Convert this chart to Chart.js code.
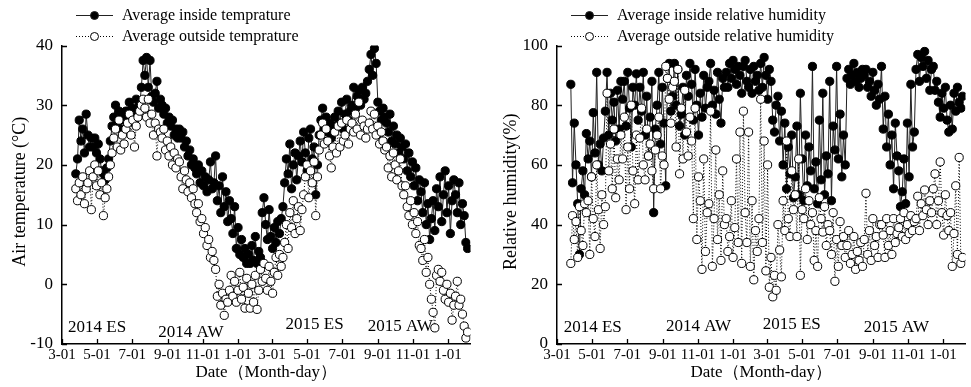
<!DOCTYPE html>
<html>
<head>
<meta charset="utf-8">
<script src="https://cdn.jsdelivr.net/npm/chart.js@4.4.1/dist/chart.umd.min.js"></script>
<style>
  html, body { margin: 0; padding: 0; background: #fff; }
  .wrap { display: flex; width: 971px; height: 387px; }
  .panel { position: relative; height: 387px; }
</style>
</head>
<body>
<div class="wrap">
  <div class="panel" style="width:485px"><canvas id="tempChart"></canvas></div>
  <div class="panel" style="width:486px"><canvas id="humChart"></canvas></div>
</div>
<script>
// days are counted from 2014-03-01, one reading every 3 days from 2014-03-25
const startDay = 24;
const stepDays = 3;

const tickDays = [0, 61, 122, 184, 245, 306, 365, 426, 487, 549, 610, 671];
const tickLabels = ["3-01", "5-01", "7-01", "9-01", "11-01", "1-01", "3-01", "5-01", "7-01", "9-01", "11-01", "1-01"];

const periodLabels = ["2014 ES", "2014 AW", "2015 ES", "2015 AW"];
const periodDaysTemp = [61, 224, 439, 588];
const periodValsTemp = [-7.3, -8.0, -6.8, -7.15];
const periodDaysHum = [62, 246, 408, 590];
const periodValsHum = [5.4, 5.7, 6.4, 5.4];

const insideTemp = [
  18.5, 21, 27.5, 24, 26, 22, 28.5, 25, 23, 24.5,
  23, 24.5, 22, 23.5, 21, 19, 18.5, 17.5, 19.5, 21,
  24, 26.5, 28, 30, 27, 29, 26, 28.5, 27.5, 29,
  29, 30.5, 28, 29.5, 27, 31, 28.5, 30, 33, 37.5,
  35, 38, 33, 37.5, 31.5, 30.5, 32, 34, 29.5, 31,
  30, 28.5, 29.5, 27, 28, 26.5, 27.5, 25, 26, 24.5,
  26, 24.5, 25.5, 23, 24, 21.5, 22.5, 20, 21, 19.5,
  18.5, 20, 17, 19, 16.5, 18, 15.5, 17.5, 20.5, 16,
  17, 21.5, 14, 16.5, 12, 18, 13, 15.5, 10.5, 14,
  11, 8.5, 13, 6, 9.5, 5, 7.5, 4.5, 6, 3.5,
  5, 3.5, 6.5, 4, 8, 3.5, 5.5, 4.5, 12, 14.5,
  10, 7.5, 12.5, 8, 6, 9.5, 7, 10.5, 8.5, 11,
  13, 17, 21, 18.5, 23.5, 16, 20, 22, 17.5, 21.5,
  24, 20.5, 25.5, 22, 19, 24.5, 26, 21, 23, 15,
  20, 25, 27.5, 29.5, 26, 28, 25.5, 27, 24.5, 26.5,
  28, 26.5, 29, 27, 30.5, 26, 28.5, 31, 27.5, 29,
  30, 33, 29.5, 31.5, 32.5, 30, 33, 31, 32, 34,
  36, 38.5, 35, 39.5, 37, 30.5, 29, 27.5, 29.5, 28,
  27, 25.5, 28.5, 24, 26.5, 23.5, 25, 22, 24.5, 23,
  21, 23.5, 19, 22, 18, 20.5, 16.5, 19.5, 14, 17.5,
  15.5, 12, 17, 10, 13.5, 7.5, 11, 14, 9, 16,
  13, 18, 10.5, 15, 19, 12, 16.5, 8.5, 14, 17.5,
  15, 12, 17, 10, 13.5, 11.5, 7, 6
];

const outsideTemp = [
  16, 14, 17, 15, 18, 13.5, 16, 17, 19, 12.5,
  18, 20, 16.5, 19, 15, 17, 11.5, 14.5, 16, 18,
  20, 22, 24.5, 26, 23, 27.5, 22.5, 25, 23.5, 26,
  27, 28.5, 25, 27.5, 23, 26.5, 28, 29, 30, 31,
  29.5, 28, 31, 27, 28.5, 25, 27, 21.5, 26, 25.5,
  24.5, 26, 22.5, 24, 21.5, 23, 20, 22, 19.5, 21,
  20.5, 18, 16, 19, 17.5, 15.5, 17, 14.5, 16, 13.5,
  12, 13.5, 10.5, 11, 8.5, 9.5, 6.5, 7.5, 4.5, 5.5,
  4, 2.5, -2, 0, -3.5, -1.5, -5.2, -2.5, -3, -1,
  1.5, -2, 0.5, -3, -1, 2, -2.5, -0.5, -4, 1,
  -1.5, -4, 0, -3, 1.5, -4.2, -1, 2.5, 0.5, 3.5,
  1, -1, 3, 0.5, -1.5, 2, 4.5, 1.5, 5, 3,
  4.5, 7, 10, 6, 12, 9.5, 14, 8.5, 11, 13,
  9, 12.5, 15, 18, 20, 14.5, 19, 17, 20.5, 11.5,
  18, 22.5, 25, 27, 23.5, 26, 24, 21.5, 19.5, 23,
  25.5, 22, 26.5, 23, 27, 24, 25, 27.5, 23.5, 26,
  27, 25.5, 28.5, 26, 30.5, 25, 27.5, 26.5, 24.5, 26,
  27, 29, 26, 28.5, 25, 26.5, 23.5, 25.5, 24, 22.5,
  23, 19.5, 21.5, 18, 22, 20, 17.5, 19, 21, 16.5,
  15, 16.5, 13, 11.5, 14, 10, 12, 8.5, 10.5, 6.5,
  6, 4, 7.5, 2, 4.5, 0, -2.5, -4.7, -7.3, 1.5,
  2.5, 0.5, 2, -1, -2.5, 0, -3, -1.5, -6, -3.5,
  -2, 0.5, -3.5, -2.5, -5, -7, -9, -8
];

const insideHum = [
  87, 54, 74, 60, 47, 30, 52, 58, 50, 70.5,
  62, 68, 56, 77.5, 64, 91, 60, 67, 58, 69,
  78, 91, 70, 84, 75, 81, 68, 85, 72, 88,
  82, 88, 73, 91, 79, 66, 86, 80, 90.5, 75,
  86, 78, 91, 70, 83, 63, 76, 88, 44, 72,
  80, 91, 67, 86, 74, 53, 89, 94, 78, 83,
  94, 80, 92, 73, 77, 86, 70, 90, 83, 94,
  87, 75, 92, 80, 70, 84, 76, 90, 79, 86,
  88, 94, 80, 85, 77, 91, 82, 74, 89, 86,
  91, 86, 94, 89, 95, 92, 87, 93, 90, 84,
  93, 95, 88, 86, 92, 84, 93, 88, 90, 85,
  94, 86, 96, 90, 82, 92, 88, 75, 71, 80,
  83, 68, 78, 60, 74, 52, 66, 57, 70, 49,
  56, 73, 50, 84, 62, 48, 70, 53, 66, 58,
  93, 52, 61, 47, 75, 55, 84, 50, 63, 57,
  88, 48, 73, 65, 93, 62, 77, 56, 70, 60,
  89, 92, 87, 90, 94, 88, 91, 86, 89, 92,
  90, 92, 86, 88, 83, 91, 85, 80, 87, 82,
  93, 72, 83, 66, 77, 60, 70, 52, 74, 63,
  58, 46, 51, 62, 47, 74, 56, 87, 66, 71,
  92, 97, 88, 96, 93, 98, 89, 95, 85, 92,
  93, 85, 88, 81, 76, 84, 79, 86, 75, 71,
  80, 72, 84, 78, 86, 81, 79, 83
];

const outsideHum = [
  27, 43, 35, 41, 29, 46, 38, 33, 47, 44,
  48, 30, 56, 42, 36, 60, 45, 32, 50, 40,
  46, 84, 58, 67, 52, 72, 49, 62, 55, 70,
  62, 76, 45, 66, 52, 80, 58, 47, 70, 55,
  69, 79, 60, 55, 72, 63, 67, 58, 52, 65,
  70, 76, 52, 63, 60, 93, 89, 82, 74, 86,
  88, 66, 92, 57, 79, 62, 85, 71, 63, 76,
  68, 42, 79, 35, 56, 48, 25, 62, 31, 44,
  47, 78, 26, 42, 65, 35, 50, 28, 58, 40,
  42, 31, 36, 48, 29, 39, 62, 34, 71, 27,
  78, 44, 34, 71, 26, 48, 21.5, 38, 31, 42,
  82, 34, 68, 24.5, 60, 19, 29, 15.8, 23, 18,
  40, 31.5, 22.5, 48, 38, 68, 42, 36, 58, 45,
  50, 36, 62, 23, 45, 42, 52, 35, 48, 40,
  44, 28, 38, 26, 49, 42, 37.5, 46, 33, 40,
  38, 30, 44, 21, 35, 26, 41, 33, 36, 29,
  33, 38, 27, 30, 36, 25, 31, 28, 34, 26,
  35, 50.5, 30, 38, 28, 42, 33, 36, 29, 40,
  40, 36.5, 29, 42, 33, 38, 30, 42, 34, 37,
  39, 42, 36, 44, 35, 40, 37, 43, 38, 41,
  42, 49.5, 38, 47, 43, 51.6, 45, 40, 48, 44,
  52, 57, 40, 48, 61, 44, 36.5, 50, 43, 38,
  44, 26, 37, 53, 30, 62.5, 27, 29
];

const serif = '"Liberation Serif", "Times New Roman", serif';

function toPoints(values) {
  return values.map((v, i) => ({ x: startDay + i * stepDays, y: v }));
}

function insideSet(label, values) {
  return {
    label: label,
    data: toPoints(values),
    borderColor: "#222",
    borderWidth: 1,
    pointRadius: 4.1,
    pointBackgroundColor: "#000",
    pointBorderColor: "#000",
    pointBorderWidth: 1,
    tension: 0,
    order: 1
  };
}

function outsideSet(label, values) {
  return {
    label: label,
    data: toPoints(values),
    borderColor: "#000",
    borderWidth: 1,
    borderDash: [1, 2],
    pointRadius: 4.1,
    pointBackgroundColor: "#fff",
    pointBorderColor: "#000",
    pointBorderWidth: 1,
    tension: 0,
    order: 0
  };
}

// inward ticks, legend, axis titles and period labels
const decorPlugin = {
  id: "decor",
  afterDraw(chart, args, opts) {
    const ctx = chart.ctx;
    const xs = chart.scales.x;
    const ys = chart.scales.y;
    const area = chart.chartArea;
    ctx.save();
    ctx.strokeStyle = "#000";
    ctx.lineWidth = 1.3;
    ctx.beginPath();
    xs.ticks.forEach(t => {
      const px = Math.round(xs.getPixelForValue(t.value)) + 0.5;
      ctx.moveTo(px, area.bottom);
      ctx.lineTo(px, area.bottom - 5);
    });
    ys.ticks.forEach(t => {
      const py = Math.round(ys.getPixelForValue(t.value)) + 0.5;
      ctx.moveTo(area.left, py);
      ctx.lineTo(area.left + 5, py);
    });
    ctx.stroke();

    ctx.fillStyle = "#000";
    ctx.textAlign = "center";
    ctx.textBaseline = "middle";
    ctx.font = "17px " + serif;
    opts.periods.labels.forEach((txt, i) => {
      ctx.fillText(txt, xs.getPixelForValue(opts.periods.days[i]), ys.getPixelForValue(opts.periods.vals[i]));
    });

    ctx.fillText(opts.xTitle, (area.left + area.right) / 2, 373);

    ctx.save();
    ctx.font = "18px " + serif;
    ctx.translate(opts.yTitleX, (area.top + area.bottom) / 2 - 3);
    ctx.rotate(-Math.PI / 2);
    ctx.fillText(opts.yTitle, 0, 0);
    ctx.restore();

    // legend: line sample with marker, then text
    ctx.textAlign = "left";
    ctx.font = "16px " + serif;
    const lx0 = area.left + 14, lx1 = area.left + 51;
    chart.data.datasets.forEach((ds, i) => {
      const ly = 15 + i * 21;
      ctx.save();
      ctx.strokeStyle = ds.borderColor;
      ctx.lineWidth = 1;
      ctx.setLineDash(ds.borderDash || []);
      ctx.beginPath();
      ctx.moveTo(lx0, ly + 0.5);
      ctx.lineTo(lx1, ly + 0.5);
      ctx.stroke();
      ctx.setLineDash([]);
      ctx.beginPath();
      ctx.arc((lx0 + lx1) / 2, ly + 0.5, 4, 0, Math.PI * 2);
      ctx.fillStyle = ds.pointBackgroundColor;
      ctx.fill();
      ctx.stroke();
      ctx.restore();
      ctx.fillText(ds.label, area.left + 60, ly + 1);
    });
    ctx.restore();
  }
};

function makeChart(canvasId, sets, yMin, yMax, yStep, yWidth, padRight, decor) {
  return new Chart(document.getElementById(canvasId).getContext("2d"), {
    type: "line",
    data: { datasets: sets },
    options: {
      responsive: true,
      maintainAspectRatio: false,
      animation: false,
      layout: { padding: { top: 45.5, right: padRight, bottom: 0, left: 0 } },
      plugins: {
        legend: { display: false },
        tooltip: { enabled: false },
        decor: decor
      },
      scales: {
        x: {
          type: "linear",
          min: 0,
          max: 710,
          afterBuildTicks: scale => { scale.ticks = tickDays.map(d => ({ value: d })); },
          afterFit: scale => { scale.height = 43; },
          grid: { display: false, drawTicks: false },
          border: { display: true, color: "#000", width: 1.5 },
          ticks: {
            autoSkip: false,
            maxRotation: 0,
            padding: 2,
            color: "#000",
            font: { family: serif, size: 15 },
            callback: (val, idx) => tickLabels[idx]
          }
        },
        y: {
          min: yMin,
          max: yMax,
          afterFit: scale => { scale.width = yWidth; },
          grid: { display: false, drawTicks: false },
          border: { display: true, color: "#000", width: 1.5 },
          ticks: {
            stepSize: yStep,
            padding: 9,
            color: "#000",
            font: { family: serif, size: 17 }
          }
        }
      }
    },
    plugins: [decorPlugin]
  });
}

window.tempChart = makeChart("tempChart",
  [insideSet("Average inside temprature", insideTemp), outsideSet("Average outside temprature", outsideTemp)],
  -10, 40, 10, 62, 14.5,
  {
    xTitle: "Date（Month-day）",
    yTitle: "Air temperature (°C)",
    yTitleX: 20,
    periods: { labels: periodLabels, days: periodDaysTemp, vals: periodValsTemp }
  });

window.humChart = makeChart("humChart",
  [insideSet("Average inside relative humidity", insideHum), outsideSet("Average outside relative humidity", outsideHum)],
  0, 100, 20, 72, 5.5,
  {
    xTitle: "Date（Month-day）",
    yTitle: "Relative humidity(%)",
    yTitleX: 26,
    periods: { labels: periodLabels, days: periodDaysHum, vals: periodValsHum }
  });
</script>
</body>
</html>
